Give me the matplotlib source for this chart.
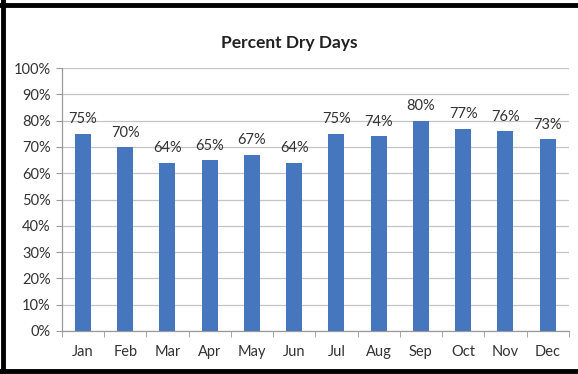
import matplotlib
matplotlib.use("Agg")
import matplotlib.pyplot as plt
from matplotlib.lines import Line2D
import numpy as np

months = ["Jan", "Feb", "Mar", "Apr", "May", "Jun",
          "Jul", "Aug", "Sep", "Oct", "Nov", "Dec"]
dry_pct = [75, 70, 64, 65, 67, 64, 75, 74, 80, 77, 76, 73]
y_ticks = [0, 10, 20, 30, 40, 50, 60, 70, 80, 90, 100]

plt.rcParams["font.family"] = ["Lato", "DejaVu Sans"]

fig = plt.figure(figsize=(5.78, 3.74), dpi=100)
ax = fig.add_axes([0.107, 0.115, 0.877, 0.703])

x = np.arange(len(months))
bars = ax.bar(x, dry_pct, width=0.38, color="#4677BE", zorder=3)

for xi, v in zip(x, dry_pct):
    ax.text(xi, v + 2.8, f"{v}%", ha="center", va="bottom",
            fontsize=10.5, color="#333333")

ax.set_xlim(-0.5, len(months) - 0.5)
ax.set_ylim(0, 100)
ax.set_yticks(y_ticks)
ax.set_yticklabels([f"{t}%" for t in y_ticks])
ax.set_xticks(x)
ax.set_xticklabels(months)
ax.tick_params(axis="both", labelsize=10.5, colors="#333333", length=0)
ax.tick_params(axis="x", pad=10)
ax.tick_params(axis="y", pad=4)

# minor ticks at category boundaries on the x-axis
ax.set_xticks(np.arange(-0.5, len(months)), minor=True)
ax.tick_params(axis="x", which="minor", length=4, color="#999999", direction="out")
ax.tick_params(axis="y", which="major", length=4, color="#999999", direction="out")

ax.grid(axis="y", color="#c4c4c4", linewidth=0.9, zorder=0)
for side in ["top", "right"]:
    ax.spines[side].set_visible(False)
for side in ["left", "bottom"]:
    ax.spines[side].set_color("#999999")
    ax.spines[side].set_linewidth(0.9)

fig.text(0.5, 0.885, "Percent Dry Days", ha="center", va="center",
         fontsize=12.5, fontweight="bold", color="#222222")

# dark frame around the chart
fig.add_artist(Line2D([0, 1], [0.987, 0.987], transform=fig.transFigure,
                      color="black", linewidth=3.5))
fig.add_artist(Line2D([0.006, 0.006], [0, 1], transform=fig.transFigure,
                      color="black", linewidth=3.5))
fig.add_artist(Line2D([0, 1], [0.008, 0.008], transform=fig.transFigure,
                      color="black", linewidth=3.5))

fig.savefig("out.png", dpi=100)
